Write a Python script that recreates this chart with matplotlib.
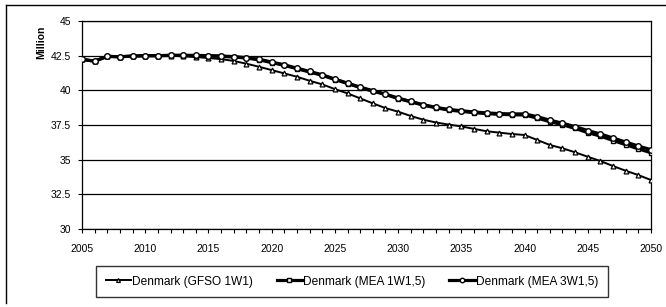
import matplotlib
matplotlib.use("Agg")
import matplotlib.pyplot as plt
from matplotlib.lines import Line2D

plt.rcParams['font.family'] = ['Liberation Sans', 'DejaVu Sans']

years = list(range(2005, 2051))

gfso_1w1 = [42.24, 42.10, 42.45, 42.42, 42.47, 42.50, 42.50, 42.50, 42.45, 42.40,
            42.33, 42.25, 42.12, 41.92, 41.70, 41.46, 41.22, 40.98, 40.69, 40.43,
            40.09, 39.78, 39.42, 39.06, 38.72, 38.46, 38.15, 37.88, 37.68, 37.53,
            37.40, 37.22, 37.05, 36.95, 36.85, 36.78, 36.42, 36.06, 35.82, 35.53,
            35.21, 34.90, 34.54, 34.20, 33.89, 33.53]

mea_1w15 = [42.24, 42.10, 42.45, 42.42, 42.47, 42.50, 42.50, 42.52, 42.52, 42.50,
            42.48, 42.45, 42.40, 42.33, 42.20, 42.00, 41.80, 41.56, 41.32, 41.08,
            40.78, 40.49, 40.20, 39.94, 39.70, 39.41, 39.17, 38.93, 38.74, 38.58,
            38.48, 38.39, 38.32, 38.27, 38.24, 38.22, 38.00, 37.74, 37.52, 37.25,
            36.95, 36.70, 36.38, 36.08, 35.78, 35.50]

mea_3w15 = [42.24, 42.10, 42.45, 42.42, 42.47, 42.50, 42.50, 42.52, 42.52, 42.52,
            42.50, 42.48, 42.43, 42.36, 42.24, 42.04, 41.84, 41.60, 41.36, 41.12,
            40.81, 40.52, 40.23, 39.97, 39.73, 39.44, 39.20, 38.96, 38.77, 38.62,
            38.53, 38.44, 38.37, 38.32, 38.30, 38.30, 38.10, 37.85, 37.63, 37.38,
            37.10, 36.85, 36.56, 36.27, 35.98, 35.72]

series_labels = ["Denmark (GFSO 1W1)", "Denmark (MEA 1W1,5)", "Denmark (MEA 3W1,5)"]
y_ticks = [30, 32.5, 35, 37.5, 40, 42.5, 45]
x_ticks = list(range(2005, 2051, 5))

W, H = 666, 307
fig = plt.figure(figsize=(W / 100, H / 100), dpi=100)
ax = fig.add_axes([82 / W, 1 - 229 / H, (651 - 82) / W, (229 - 21) / H])

ax.plot(years, gfso_1w1, color='black', lw=1.4, marker='^', ms=3.5,
        mfc='white', mec='black', mew=0.9, label=series_labels[0], zorder=3)
ax.plot(years, mea_1w15, color='black', lw=2.3, marker='s', ms=3.5,
        mfc='white', mec='black', mew=1.0, label=series_labels[1], zorder=4)
ax.plot(years, mea_3w15, color='black', lw=2.3, marker='o', ms=4,
        mfc='white', mec='black', mew=1.0, label=series_labels[2], zorder=5)

ax.set_xlim(2005, 2050)
ax.set_ylim(30, 45)
ax.set_yticks(y_ticks)
ax.set_yticklabels([f"{v:g}" for v in y_ticks])
ax.set_xticks(x_ticks)
ax.set_xticks(years, minor=True)
ax.tick_params(axis='both', labelsize=7.5, direction='out', length=3, width=0.8, colors='black')
ax.tick_params(axis='x', which='minor', direction='out', length=3, width=0.8)
ax.tick_params(axis='x', pad=8)
ax.tick_params(axis='y', pad=5)
ax.yaxis.grid(True, color='black', lw=0.9)
ax.set_axisbelow(True)
for s in ['left', 'right', 'bottom', 'top']:
    ax.spines[s].set_color('black')
    ax.spines[s].set_linewidth(0.9)

fig.text(41 / W, 1 - 42 / H, "Million", rotation=90, fontsize=7.5, fontweight='bold',
         ha='center', va='center')

leg = fig.legend(loc='center', bbox_to_anchor=(352 / W, 1 - 281.5 / H), ncol=3,
                 fontsize=8.6, frameon=True, fancybox=False, edgecolor='black',
                 handlelength=2.1, columnspacing=2.0, handletextpad=0.1,
                 borderpad=0.8, markerscale=0.8)
leg.get_frame().set_linewidth(1.0)

# outer frame lines
fig.add_artist(Line2D([6 / W, 6 / W], [1 - 5 / H, 1 - 303 / H], color='black', lw=1.0))
fig.add_artist(Line2D([6 / W, 665 / W], [1 - 5 / H, 1 - 5 / H], color='black', lw=1.0))

fig.savefig("out.png", dpi=100)
